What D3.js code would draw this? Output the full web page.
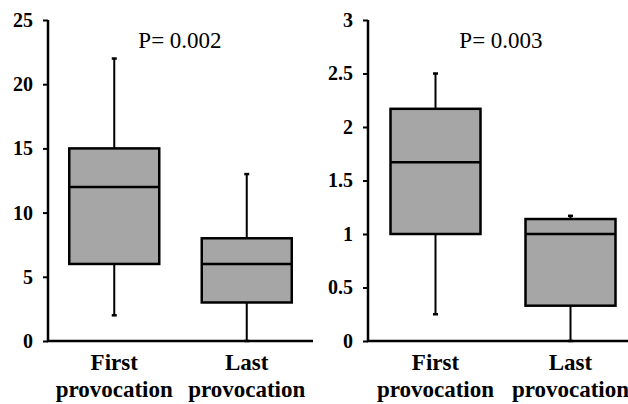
<!DOCTYPE html>
<html><head><meta charset="utf-8">
<script src="https://cdn.jsdelivr.net/npm/d3@7"></script>
<style>
body{margin:0;background:#fff}
svg{display:block}
</style>
</head><body>
<svg id="c" width="628" height="404"></svg>
<script>
const categories = ["First provocation", "Last provocation"];
// [min, q1, median, q3, max]
const leftStats = [[2, 6, 12, 15, 22], [0, 3, 6, 8, 13]];
const rightStats = [[0.25, 1.0, 1.67, 2.17, 2.5], [0, 0.33, 1.0, 1.14, 1.17]];
const leftTicks = [0, 5, 10, 15, 20, 25];
const rightTicks = [0, 0.5, 1, 1.5, 2, 2.5, 3];
const pLabels = ["P= 0.002", "P= 0.003"];

const svg = d3.select("#c");
const FONT = '"Liberation Serif", "Times New Roman", Times, serif';

function panel(stats, ticks, yMax, x0, x1, pLabel, pX) {
  const y = d3.scaleLinear().domain([0, yMax]).range([341, 20]);
  const x = d3.scaleBand().domain(categories).range([x0, x1]);
  const g = svg.append("g");
  const bw = 90;
  categories.forEach((c, i) => {
    const s = stats[i];
    const cx = x(c) + x.bandwidth() / 2;
    g.append("line").attr("x1", cx).attr("x2", cx).attr("y1", y(s[0])).attr("y2", y(s[4]))
      .attr("stroke", "#000").attr("stroke-width", 2);
    [s[0], s[4]].forEach(v => {
      g.append("line").attr("x1", cx - 2.5).attr("x2", cx + 2.5).attr("y1", y(v)).attr("y2", y(v))
        .attr("stroke", "#000").attr("stroke-width", 2.5);
    });
    g.append("rect").attr("x", cx - bw / 2).attr("y", y(s[3])).attr("width", bw)
      .attr("height", y(s[1]) - y(s[3])).attr("fill", "#a6a6a6")
      .attr("stroke", "#000").attr("stroke-width", 2.5);
    g.append("line").attr("x1", cx - bw / 2).attr("x2", cx + bw / 2).attr("y1", y(s[2])).attr("y2", y(s[2]))
      .attr("stroke", "#000").attr("stroke-width", 2.5);
    const words = c.split(" ");
    const t = g.append("text").attr("text-anchor", "middle").style("font-family", FONT)
      .attr("font-weight", "bold").attr("font-size", 23).attr("fill", "#000");
    t.append("tspan").attr("x", cx).attr("y", 370).text(words[0]);
    t.append("tspan").attr("x", cx).attr("y", 397).text(words[1]);
  });
  // y axis
  const ya = g.append("g").attr("transform", `translate(${x0},0)`)
    .call(d3.axisLeft(y).tickValues(ticks).tickSize(5).tickFormat(d3.format("")).tickPadding(10));
  ya.select(".domain").attr("stroke", "#000").attr("stroke-width", 2.5).attr("d", `M0,${y(yMax)}V${y(0)}`);
  ya.selectAll(".tick line").attr("stroke", "#000").attr("stroke-width", 2);
  ya.selectAll(".tick text").style("font-family", FONT).attr("font-weight", "bold")
    .attr("font-size", 20).attr("fill", "#000");
  // x axis line
  g.append("line").attr("x1", x0 - 1).attr("x2", x1).attr("y1", y(0)).attr("y2", y(0))
    .attr("stroke", "#000").attr("stroke-width", 2.5);
  g.append("text").attr("x", pX).attr("y", 48).attr("text-anchor", "middle").style("font-family", FONT)
    .attr("font-size", 23).attr("fill", "#000").text(pLabel);
}

panel(leftStats, leftTicks, 25, 48, 313, pLabels[0], 180);
panel(rightStats, rightTicks, 3, 368, 638, pLabels[1], 501);
</script>
</body></html>
